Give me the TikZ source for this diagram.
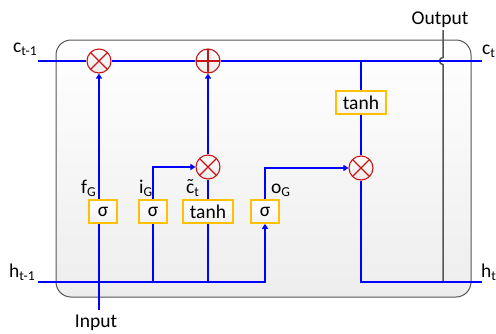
\documentclass[tikz,border=0pt]{standalone}
\usepackage{fontspec}
\setmainfont{Carlito}
\usetikzlibrary{arrows.meta}
\definecolor{sigblue}{RGB}{0,0,255}
\definecolor{opred}{RGB}{200,20,20}
\definecolor{gategold}{RGB}{255,192,0}
\definecolor{outgray}{RGB}{85,85,85}
\newcommand{\tp}{-{Triangle[length=5pt,width=6pt]}}
\newcommand{\ctilde}{\ooalign{c\cr\hidewidth\raisebox{1pt}{˜}\hidewidth\cr}}

\begin{document}
\begin{tikzpicture}[x=1pt,y=-1pt,
  font=\fontsize{19.5}{23}\selectfont,
  sig/.style={draw=sigblue, line width=1.8pt},
  mult/.style={circle, draw=opred, line width=1.1pt, inner sep=0pt, minimum size=24pt,
    top color=white, bottom color=black!8,
    path picture={\draw[opred, line width=1.1pt]
      ([shift={(45:12pt)}]path picture bounding box.center) -- ([shift={(225:12pt)}]path picture bounding box.center)
      ([shift={(135:12pt)}]path picture bounding box.center) -- ([shift={(315:12pt)}]path picture bounding box.center);}},
  add/.style={circle, draw=opred, line width=1.1pt, inner sep=0pt, minimum size=24pt,
    top color=white, bottom color=black!8,
    path picture={\draw[opred, line width=1.1pt]
      ([xshift=-12pt]path picture bounding box.center) -- ([xshift=12pt]path picture bounding box.center)
      ([yshift=-12pt]path picture bounding box.center) -- ([yshift=12pt]path picture bounding box.center);}},
  gate/.style={draw=gategold, line width=1.6pt, top color=white, bottom color=black!5,
    minimum width=28pt, minimum height=23pt, inner xsep=7pt, inner ysep=0pt},
  lbl/.style={anchor=base west, inner sep=0pt}]
\useasboundingbox (0,0) rectangle (496,333);

\draw[rounded corners=15pt, draw=outgray, line width=1pt, top color=white, bottom color=black!7]
  (56,40) rectangle (471,297);

\coordinate (cin) at (38,61);
\coordinate (cout) at (482,61);
\coordinate (hin) at (38,282);
\coordinate (hout) at (482,282);
\coordinate (inbot) at (99,310);
\coordinate (outtop) at (443,30);

\node[mult] (m1) at (99,61) {};
\node[add] (a1) at (208,61) {};
\node[mult] (m2) at (208,167) {};
\node[mult] (m3) at (361,168) {};

\node[gate] (gf) at (103,211.5) {σ};
\node[gate] (gi) at (153,211.5) {σ};
\node[gate] (gc) at (208,211.5) {tanh};
\node[gate] (go) at (265,211.5) {σ};
\node[gate] (gt) at (361,102.5) {tanh};

\draw[outgray, line width=1.5pt] (outtop) -- (443,57.5)
  arc[start angle=90, end angle=270, radius=3.5pt] -- (443,282);

\draw[sig] (cin) -- (m1);
\draw[sig] (m1) -- (a1);
\draw[sig] (a1) -- (cout);

\draw[sig,\tp] (hin) -| (go);
\draw[sig] (m3) |- (hout);

\draw[sig] (inbot) -- (inbot |- gf.south);
\draw[sig,\tp] (gf.north -| m1) -- (m1);

\draw[sig] (gi |- hin) -- (gi);
\draw[sig,\tp] (gi) |- (m2);

\draw[sig] (gc |- hin) -- (gc);
\draw[sig] (gc) -- (m2);
\draw[sig,\tp] (m2) -- (a1);

\draw[sig,\tp] (go) |- (m3);

\draw[sig] (gt |- cin) -- (gt);
\draw[sig] (gt) -- (m3);

\node[lbl] (lct1) at (13,52) {c\textsubscript{t-1}};
\node[lbl] (lht1) at (9,277) {h\textsubscript{t-1}};
\node[lbl] (lct) at (482,54) {c\textsubscript{t}};
\node[lbl] (lht) at (481,277) {h\textsubscript{t}};
\node[anchor=base, inner sep=0pt] (lout) at (440,24) {Output};
\node[anchor=base, inner sep=0pt] (linp) at (96,327) {Input};
\node[lbl] (lfg) at (81,193) {f\textsubscript{G}};
\node[lbl] (lig) at (139,193) {i\textsubscript{G}};
\node[lbl] (lcg) at (186,193) {\ctilde\textsubscript{t}};
\node[lbl] (log) at (271,193) {o\textsubscript{G}};
\end{tikzpicture}
\end{document}
